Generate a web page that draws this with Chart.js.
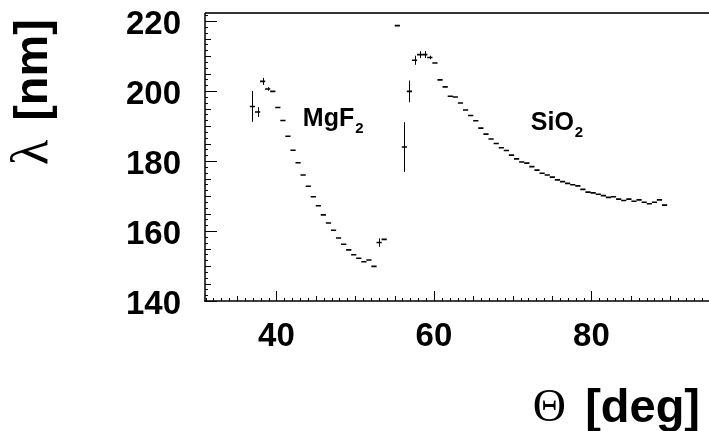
<!DOCTYPE html>
<html><head><meta charset="utf-8">
<script src="https://cdn.jsdelivr.net/npm/chart.js@4"></script>
<style>
html,body{margin:0;padding:0;background:#fff;overflow:hidden;}
#wrap{position:relative;width:712px;height:431px;}
</style></head><body>
<div id="wrap"><canvas id="c"></canvas></div>
<script>
// ---- data ----
const mgf2Theta = [36.96, 37.61, 38.25, 38.89, 39.54, 40.18, 40.82, 41.46, 42.11, 42.75, 43.39, 44.04, 44.68, 45.32, 45.96, 46.61, 47.25, 47.89, 48.54, 49.18, 49.82, 50.46, 51.11, 51.75, 52.39, 53.04, 53.68];
const mgf2Lambda = [195.6, 194.0, 202.75, 200.6, 199.9, 195.3, 191.6, 187.1, 183.1, 179.5, 176.0, 172.8, 169.8, 167.2, 164.6, 162.3, 160.2, 158.0, 156.2, 154.6, 153.2, 152.2, 151.2, 151.7, 149.9, 156.7, 157.6];
const mgf2Err = [4.4, 1.4, 1.0, 0.5, 0, 0, 0, 0, 0, 0, 0, 0, 0, 0, 0, 0, 0, 0, 0, 0, 0, 0, 0, 0, 0, 1.2, 0];

const sio2Theta = [55.35, 56.25, 56.89, 57.54, 58.19, 58.84, 59.48, 60.13, 60.78, 61.43, 62.08, 62.72, 63.37, 64.02, 64.67, 65.32, 65.96, 66.61, 67.26, 67.91, 68.56, 69.20, 69.85, 70.50, 71.15, 71.80, 72.44, 73.09, 73.74, 74.39, 75.04, 75.68, 76.33, 76.98, 77.63, 78.28, 78.92, 79.57, 80.22, 80.87, 81.52, 82.16, 82.81, 83.46, 84.11, 84.76, 85.40, 86.05, 86.70, 87.35, 88.00, 88.64, 89.29];
const sio2Lambda = [218.7, 184.0, 199.9, 208.8, 210.4, 210.4, 209.6, 208.0, 203.2, 201.2, 198.5, 198.3, 196.6, 194.6, 193.0, 191.5, 189.4, 187.7, 186.3, 185.0, 183.8, 183.0, 181.7, 180.6, 179.7, 179.4, 178.4, 177.4, 176.5, 176.0, 175.4, 174.6, 174.1, 173.6, 173.2, 172.9, 171.9, 171.1, 170.9, 170.5, 170.1, 169.6, 169.8, 169.1, 168.7, 169.1, 168.5, 168.9, 168.2, 167.8, 168.2, 168.9, 167.4];
const sio2Err = [0, 7.1, 3.1, 1.3, 1.0, 1.0, 0.5, 0, 0, 0, 0, 0, 0, 0, 0, 0, 0, 0, 0, 0, 0, 0, 0, 0, 0, 0, 0, 0, 0, 0, 0, 0, 0, 0, 0, 0, 0, 0, 0, 0, 0, 0, 0, 0, 0, 0, 0, 0, 0, 0, 0, 0, 0];

const xTickLabels = [40, 60, 80];
const yTickLabels = [140, 160, 180, 200, 220];
const xTitleSymbol = 'Θ', xTitleText = ' [deg]';
const yTitleSymbol = 'λ', yTitleText = ' [nm]';
const labelMg = {text: 'MgF', sub: '2', x: 43.35, y: 190.0};
const labelSi = {text: 'SiO', sub: '2', x: 72.3, y: 188.9};

// ---- rendering ----
const toPts = (xs, ys, es) => xs.map((x, i) => ({x: x, y: ys[i], e: es[i]}));

const SANS = '"Liberation Sans", Arial, Helvetica, sans-serif';
const SERIF = '"Liberation Serif", "Times New Roman", serif';

const rootPlugin = {
  id: 'rootStyle',
  beforeDatasetsDraw(chart) {
    const ctx = chart.ctx, a = chart.chartArea;
    const xs = chart.scales.x, ys = chart.scales.y;
    ctx.save();
    ctx.strokeStyle = '#333';
    ctx.lineWidth = 2;
    ctx.beginPath();
    ctx.moveTo(a.left, a.top); ctx.lineTo(a.right + 5, a.top);
    ctx.stroke();
    ctx.strokeStyle = '#000';
    ctx.lineWidth = 1.5;
    ctx.beginPath();
    ctx.moveTo(a.left, a.top); ctx.lineTo(a.left, a.bottom);
    ctx.moveTo(a.left - 1, a.bottom); ctx.lineTo(a.right + 5, a.bottom);
    ctx.stroke();
    ctx.lineWidth = 1;
    ctx.beginPath();
    for (let k = 0; k <= 60; k++) {
      const v = ys.min + k * 5 / 3;
      if (v > ys.max) break;
      const p = Math.round(ys.getPixelForValue(v)) + 0.5;
      const len = (k % 12 === 0) ? 12 : (k % 3 === 0 ? 6 : 3);
      ctx.moveTo(a.left, p); ctx.lineTo(a.left + len, p);
    }
    for (let d = Math.ceil(xs.min); d <= xs.max; d++) {
      const p = Math.round(xs.getPixelForValue(d)) + 0.5;
      const len = (d % 20 === 0) ? 10 : (d % 5 === 0 ? 5 : 3);
      ctx.moveTo(p, a.bottom); ctx.lineTo(p, a.bottom - len);
    }
    ctx.stroke();
    ctx.strokeStyle = '#000';
    ctx.lineWidth = 1;
    chart.data.datasets.forEach(ds => {
      ds.data.forEach(pt => {
        if (!pt.e) return;
        const px = Math.round(xs.getPixelForValue(pt.x)) + 0.5;
        ctx.beginPath();
        ctx.moveTo(px, ys.getPixelForValue(pt.y - pt.e));
        ctx.lineTo(px, ys.getPixelForValue(pt.y + pt.e));
        ctx.stroke();
      });
    });
    ctx.restore();
  },
  afterDraw(chart) {
    const ctx = chart.ctx;
    const xs = chart.scales.x, ys = chart.scales.y;
    ctx.save();
    ctx.fillStyle = '#000';
    ctx.textBaseline = 'alphabetic';
    [labelMg, labelSi].forEach(l => {
      const px = xs.getPixelForValue(l.x), py = ys.getPixelForValue(l.y);
      ctx.font = 'bold 25px ' + SANS;
      ctx.textAlign = 'left';
      ctx.fillText(l.text, px, py);
      const w = ctx.measureText(l.text).width;
      ctx.font = 'bold 15px ' + SANS;
      ctx.fillText(l.sub, px + w + 1, py + 7);
    });
    // x title
    ctx.font = 'bold 47px ' + SANS;
    const wT = ctx.measureText(xTitleText).width;
    ctx.textAlign = 'right';
    ctx.fillText(xTitleText, 700, 422);
    ctx.font = '46px ' + SERIF;
    ctx.fillText(xTitleSymbol, 700 - wT - 6, 421);
    // y title (rotated)
    ctx.translate(47, 19);
    ctx.rotate(-Math.PI / 2);
    ctx.font = 'bold 47px ' + SANS;
    const wY = ctx.measureText(yTitleText).width;
    ctx.textAlign = 'right';
    ctx.fillText(yTitleText, 0, 0);
    ctx.font = '52px ' + SERIF;
    ctx.fillText(yTitleSymbol, -wY - 6, 0);
    ctx.restore();
  }
};

const dsStyle = {
  showLine: false,
  pointStyle: 'line',
  pointRadius: 2.6,
  pointHoverRadius: 2.6,
  pointBorderWidth: 1.6,
  borderColor: '#000',
  backgroundColor: '#000'
};

new Chart(document.getElementById('c'), {
  type: 'scatter',
  data: {
    datasets: [
      Object.assign({label: 'MgF2', data: toPts(mgf2Theta, mgf2Lambda, mgf2Err)}, dsStyle),
      Object.assign({label: 'SiO2', data: toPts(sio2Theta, sio2Lambda, sio2Err)}, dsStyle)
    ]
  },
  options: {
    responsive: true,
    maintainAspectRatio: false,
    animation: false,
    events: [],
    layout: {padding: {top: 13, left: 0, right: 0, bottom: 0}},
    plugins: {legend: {display: false}, tooltip: {enabled: false}, title: {display: false}},
    scales: {
      x: {
        type: 'linear',
        min: 30.93, max: 94.78,
        grid: {display: false, drawTicks: false},
        border: {display: false},
        afterBuildTicks: s => { s.ticks = xTickLabels.map(v => ({value: v})); },
        afterFit: s => { s.height = 130; s.paddingLeft = 0; s.paddingRight = 0; },
        ticks: {
          color: '#000',
          padding: 16,
          maxRotation: 0,
          autoSkip: false,
          font: {family: SANS, size: 33, weight: 'bold'}
        }
      },
      y: {
        type: 'linear',
        min: 140, max: 222.3,
        grid: {display: false, drawTicks: false},
        border: {display: false},
        afterBuildTicks: s => { s.ticks = yTickLabels.map(v => ({value: v})); },
        afterFit: s => { s.width = 205; s.paddingTop = 0; s.paddingBottom = 0; },
        ticks: {
          color: '#000',
          padding: 24,
          labelOffset: 4,
          autoSkip: false,
          font: {family: SANS, size: 33, weight: 'bold'}
        }
      }
    }
  },
  plugins: [rootPlugin]
});
</script>
</body></html>
